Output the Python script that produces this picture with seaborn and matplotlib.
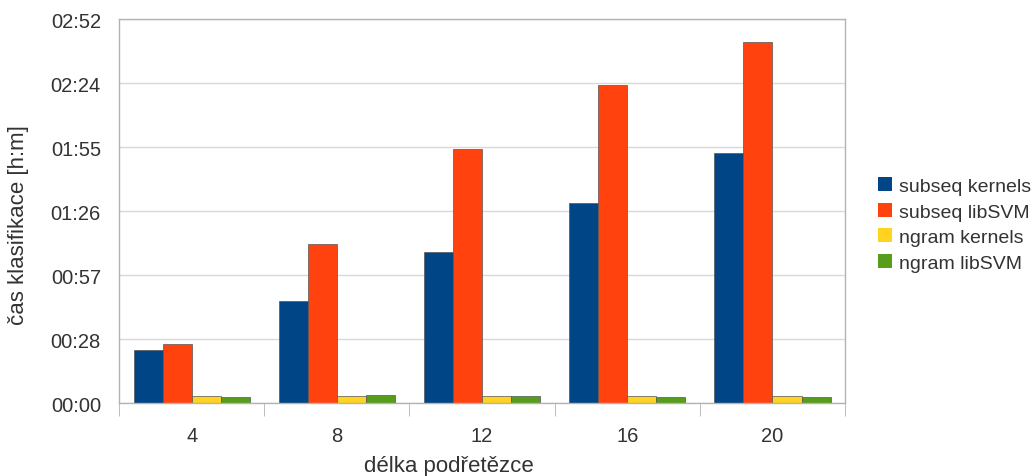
import matplotlib
matplotlib.use("Agg")
import matplotlib.pyplot as plt
from matplotlib.ticker import FixedLocator, FuncFormatter
import seaborn as sns
import pandas as pd

# Classification time in minutes per substring length
lengths = ["4", "8", "12", "16", "20"]
series = ["subseq kernels", "subseq libSVM", "ngram kernels", "ngram libSVM"]
subseq_kernels = [23.7, 45.7, 67.8, 89.9, 112.6]
subseq_libsvm = [26.7, 71.4, 114.4, 143.2, 162.6]
ngram_kernels = [3.2, 3.2, 3.1, 3.1, 3.1]
ngram_libsvm = [2.6, 3.5, 3.2, 2.8, 2.6]
colors = ["#004586", "#ff420e", "#ffd320", "#579d1c"]

values = [subseq_kernels, subseq_libsvm, ngram_kernels, ngram_libsvm]
rows = []
for name, vals in zip(series, values):
    for L, v in zip(lengths, vals):
        rows.append({"délka": L, "metoda": name, "čas": v})
df = pd.DataFrame(rows)

sns.set_style("white")
plt.rcParams["font.family"] = ["Liberation Sans", "DejaVu Sans"]

fig = plt.figure(figsize=(10.35, 4.77), dpi=100)
ax = fig.add_axes([0.115, 0.153, 0.7015, 0.805])

sns.barplot(data=df, x="délka", y="čas", hue="metoda", order=lengths,
            hue_order=series, palette=colors, width=0.8, saturation=1,
            edgecolor="#555555", linewidth=0.5, ax=ax, legend=True)

step = 28.8
ax.set_ylim(0, step * 6)
ax.yaxis.set_major_locator(FixedLocator([step * i for i in range(7)]))
ax.yaxis.set_major_formatter(
    FuncFormatter(lambda v, p: f"{int(v // 60):02d}:{int(v % 60 + 1e-6):02d}"))
ax.set_xlim(-0.5, len(lengths) - 0.5)

ax.grid(axis="y", color="#d9d9d9", linewidth=1)
ax.set_axisbelow(True)
for s in ax.spines.values():
    s.set_color("#b3b3b3")
    s.set_linewidth(1)

ax.tick_params(axis="y", which="major", length=9, color="#b3b3b3",
               labelsize=14.5, labelcolor="#333333", pad=4)
ax.tick_params(axis="x", which="major", length=0, labelsize=14.5,
               labelcolor="#333333", pad=16.5)
ax.set_xticks([i - 0.5 for i in range(len(lengths) + 1)], minor=True)
ax.tick_params(axis="x", which="minor", length=9, color="#b3b3b3",
               bottom=True)

ax.set_xlabel("délka podřetězce", fontsize=16, color="#333333", va="center")
ax.xaxis.set_label_coords(0.454, -0.164)
ax.set_ylabel("čas klasifikace [h:m]", fontsize=16, color="#333333",
              va="center")
ax.yaxis.set_label_coords(-0.138, 0.466)

leg = ax.legend(loc="center left", bbox_to_anchor=(1.0345, 0.465),
                frameon=False, fontsize=14, handlelength=0.72,
                handleheight=0.72, handletextpad=0.38, labelspacing=0.4,
                borderaxespad=0)
for t in leg.get_texts():
    t.set_color("#333333")
for h in leg.legend_handles:
    h.set_edgecolor("none")

fig.savefig("out.png", dpi=100, facecolor="white")
